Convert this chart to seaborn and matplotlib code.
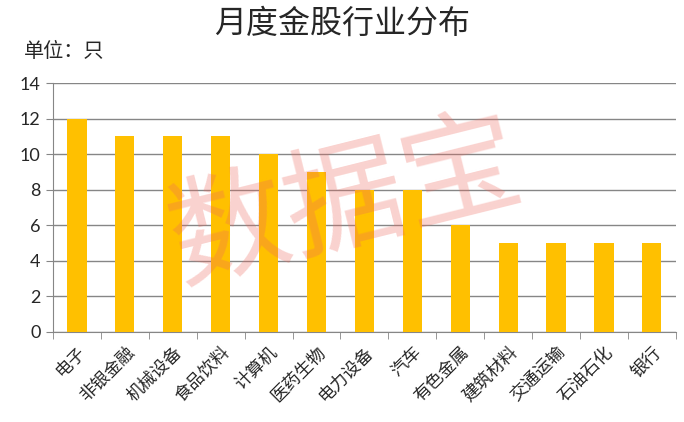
import numpy as np
import pandas as pd
import matplotlib
matplotlib.use('Agg')
import matplotlib.pyplot as plt
import seaborn as sns

industries = ['电子', '非银金融', '机械设备', '食品饮料', '计算机', '医药生物', '电力设备',
              '汽车', '有色金属', '建筑材料', '交通运输', '石油石化', '银行']
counts = [12, 11, 11, 11, 10, 9, 8, 8, 6, 5, 5, 5, 5]
y_ticks = [0, 2, 4, 6, 8, 10, 12, 14]

df = pd.DataFrame({'行业': industries, '数量': counts})

sns.set_style('white')
plt.rcParams['font.family'] = ['Noto Sans CJK SC', 'DejaVu Sans']

fig = plt.figure(figsize=(6.84, 4.22), dpi=100)
ax = fig.add_axes([0.0775, 0.2133, 0.9105, 0.5897])

sns.barplot(data=df, x='行业', y='数量', color='#FFC000', saturation=1, width=0.4,
            linewidth=0, edgecolor='none', ax=ax, zorder=3)

ax.set_ylim(0, 14)
ax.set_yticks(y_ticks)
ax.set_yticklabels([str(v) for v in y_ticks], fontsize=13, family='Lato')
ax.yaxis.grid(True, color='#868686', linewidth=1, zorder=0)
ax.set_axisbelow(True)
ax.set_xlim(-0.5, len(industries) - 0.5)

# category boundary tick marks
ax.set_xticks(np.arange(len(industries)))
ax.set_xticklabels(industries, rotation=45, ha='right', rotation_mode='anchor', fontsize=12.5)
ax.set_xticks(np.arange(-0.5, len(industries)), minor=True)
ax.tick_params(axis='x', which='major', length=0, pad=8)
ax.tick_params(axis='x', which='minor', length=5, color='#868686', bottom=True)
ax.tick_params(axis='y', length=5, color='#868686', left=True, pad=4)

ax.set_xlabel('')
ax.set_ylabel('')
for s in ['top', 'right']:
    ax.spines[s].set_visible(False)
ax.spines['left'].set_color('#868686')
ax.spines['bottom'].set_color('#868686')

fig.text(0.5, 0.943, '月度金股行业分布', ha='center', va='center', fontsize=23)
fig.text(0.035, 0.877, '单位：只', ha='left', va='center', fontsize=14.5)

# watermark
fig.text(0.505, 0.515, '数据宝', ha='center', va='center', fontsize=86, rotation=14,
         fontweight='medium', color='#EE6A5E', alpha=0.3, zorder=10)

fig.savefig('out.png', dpi=100)
